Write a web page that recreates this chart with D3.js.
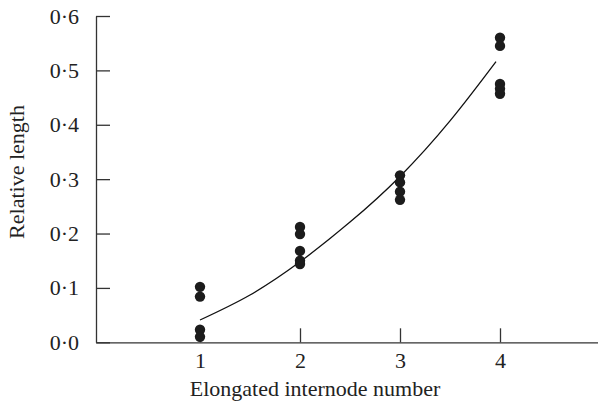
<!DOCTYPE html>
<html>
<head>
<meta charset="utf-8">
<script src="https://cdn.jsdelivr.net/npm/d3@7"></script>
<style>
  body { margin: 0; background: #fff; }
  svg { display: block; }
  text { font-family: 'Liberation Serif', 'Times New Roman', serif; fill: #222; }
</style>
</head>
<body>
<div id="chart"></div>
<script>
// observations: internode number and relative length
const internode = [1, 1, 1, 1, 2, 2, 2, 2, 2, 3, 3, 3, 3, 4, 4, 4, 4, 4]
const relLength = [0.102, 0.084, 0.023, 0.010, 0.212, 0.199, 0.168, 0.150, 0.144,
  0.307, 0.294, 0.277, 0.262, 0.560, 0.545, 0.475, 0.466, 0.457]

// fitted curve
const fitX = [1, 1.5, 2, 2.5, 3, 3.5, 3.96]
const fitY = [0.041, 0.087, 0.148, 0.221, 0.305, 0.407, 0.516]

const xTicks = [1, 2, 3, 4]
const yTicks = [0, 0.1, 0.2, 0.3, 0.4, 0.5, 0.6]

const width = 598
const height = 408

const svg = d3
  .select('#chart')
  .append('svg')
  .attr('width', width)
  .attr('height', height)

const x = d3.scaleLinear().domain([-0.04, 4.98]).range([96, 598])
const y = d3.scaleLinear().domain([0, 0.6]).range([342.3, 16])

const fmt = d => d3.format('.1f')(d).replace('.', '\u00b7')

// axes
const yAxis = svg
  .append('g')
  .attr('transform', `translate(${x(-0.04)},0)`)
  .call(
    d3.axisLeft(y)
      .tickValues(yTicks)
      .tickFormat(fmt)
      .tickSizeInner(-14)
      .tickSizeOuter(0)
      .tickPadding(17)
  )

const xAxis = svg
  .append('g')
  .attr('transform', `translate(0,${y(0)})`)
  .call(
    d3.axisBottom(x)
      .tickValues(xTicks)
      .tickFormat(d3.format('d'))
      .tickSizeInner(-14)
      .tickSizeOuter(0)
      .tickPadding(10)
  )

svg.selectAll('.domain, .tick line')
  .attr('stroke', '#333')
  .attr('stroke-width', 1.3)

svg.selectAll('.tick text')
  .attr('font-size', 22)
  .attr('fill', '#222')
  .style('font-family', "'Liberation Serif', serif")

// fitted curve
const line = d3
  .line()
  .x(d => x(d[0]))
  .y(d => y(d[1]))
  .curve(d3.curveNatural)

svg
  .append('path')
  .datum(fitX.map((d, i) => [d, fitY[i]]))
  .attr('d', line)
  .attr('fill', 'none')
  .attr('stroke', '#111')
  .attr('stroke-width', 1.3)

// points
svg
  .selectAll('.dot')
  .data(internode.map((d, i) => [d, relLength[i]]))
  .enter()
  .append('circle')
  .attr('class', 'dot')
  .attr('cx', d => x(d[0]))
  .attr('cy', d => y(d[1]))
  .attr('r', 5.2)
  .attr('fill', '#1c1c1c')

// axis titles
svg
  .append('text')
  .text('Elongated internode number')
  .attr('x', 315)
  .attr('y', 396)
  .attr('text-anchor', 'middle')
  .attr('font-size', 22)

svg
  .append('text')
  .text('Relative length')
  .attr('transform', 'translate(24,172) rotate(-90)')
  .attr('text-anchor', 'middle')
  .attr('font-size', 22)
</script>
</body>
</html>
